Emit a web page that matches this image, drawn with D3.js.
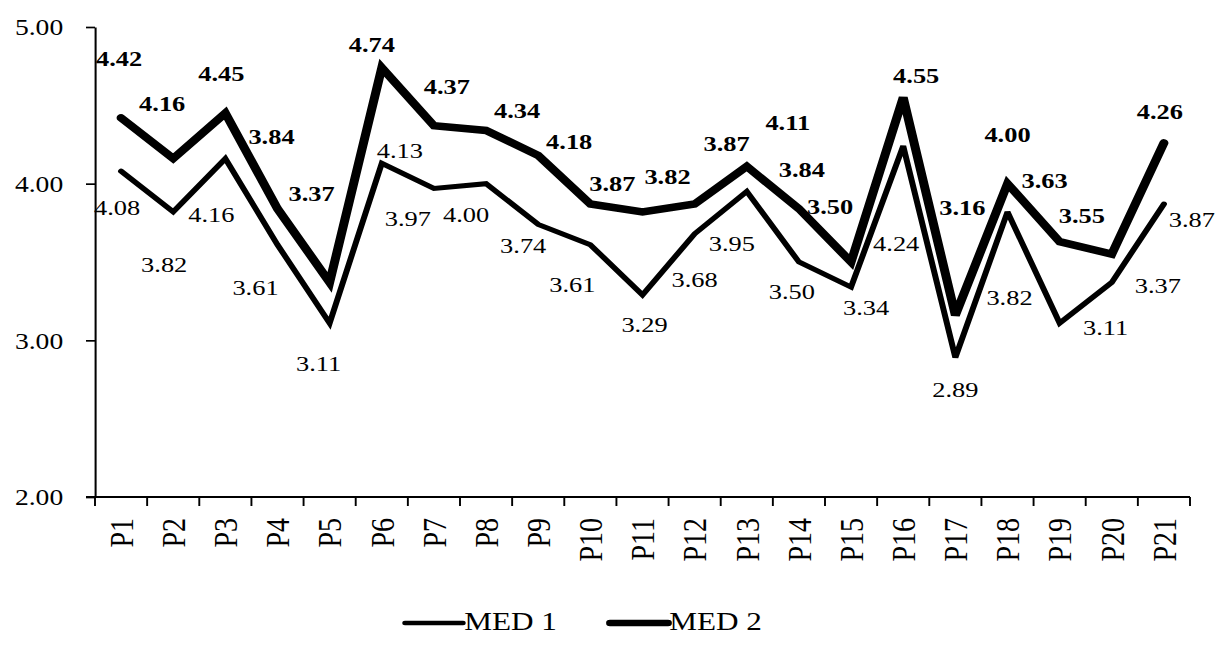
<!DOCTYPE html>
<html>
<head>
<meta charset="utf-8">
<script src="https://cdn.jsdelivr.net/npm/d3@7"></script>
<style>
  html, body { margin: 0; padding: 0; background: #fff; }
  svg { display: block; }
  text { font-family: "Liberation Serif", "Times New Roman", serif; fill: #000; }
</style>
</head>
<body>
<svg id="chart" width="1220" height="647"></svg>
<script>
// Categories and series
const categories = ["P1","P2","P3","P4","P5","P6","P7","P8","P9","P10","P11","P12","P13","P14","P15","P16","P17","P18","P19","P20","P21"];
const med1 = [4.08,3.82,4.16,3.61,3.11,4.13,3.97,4.00,3.74,3.61,3.29,3.68,3.95,3.50,3.34,4.24,2.89,3.82,3.11,3.37,3.87];
const med2 = [4.42,4.16,4.45,3.84,3.37,4.74,4.37,4.34,4.18,3.87,3.82,3.87,4.11,3.84,3.50,4.55,3.16,4.00,3.63,3.55,4.26];
const yTicks = [2, 3, 4, 5];
const seriesNames = ["MED 1", "MED 2"];

// Value label nudges (pixels) relative to each point
const med1LabelDx = [-4,-9,-14,-22,-11,18,-26,-20,-15,-18,2,0,-15,-7,15,-7,0,2,46,46,28];
const med1LabelDy = [36,53,56,43,40,-13,30,31,21,40,30,46,52,30,20,97,32,86,4,3,15];
const med2LabelDx = [-2,-11,-4,-6,-18,-10,13,31,31,22,25,32,41,3,-21,13,7,0,-15,-30,-4];
const med2LabelDy = [-59,-55,-40,-72,-89,-23,-39,-20,-14,-21,-35,-61,-44,-39,-55,-22,-108,-49,-61,-39,-31];

// The drawing is laid out in a horizontally widened frame
const SX = 1.2;
const plotLeft = 95 / SX, plotRight = 1190 / SX, plotTop = 27, plotBottom = 497;

const svg = d3.select("#chart");
svg.append("rect").attr("width", 1220).attr("height", 647).attr("fill", "#fff");
const g = svg.append("g").attr("transform", `scale(${SX},1)`);

const x = d3.scaleBand().domain(categories).range([plotLeft, plotRight]).padding(0);
const y = d3.scaleLinear().domain([2, 5]).range([plotBottom, plotTop]);
const cx = d => x(d) + x.bandwidth() / 2;
const fmt = d3.format(".2f");

// Y axis
const yAxis = g.append("g")
  .attr("transform", `translate(${plotLeft},0)`)
  .call(d3.axisLeft(y).tickValues(yTicks).tickFormat(fmt).tickSize(7.5).tickSizeOuter(0).tickPadding(19));
yAxis.select(".domain").attr("stroke", "#000").attr("stroke-width", 1.7);
yAxis.selectAll(".tick line").attr("stroke", "#000").attr("stroke-width", 1.7);
yAxis.selectAll(".tick text")
  .attr("font-size", 23).attr("font-family", "Liberation Serif").attr("dy", "0.34em");

// X axis
const xAxis = g.append("g")
  .attr("transform", `translate(0,${plotBottom})`)
  .call(d3.axisBottom(x).tickSize(0));
xAxis.select(".domain").remove();
xAxis.selectAll(".tick text")
  .attr("font-size", 28).attr("font-family", "Liberation Serif")
  .attr("x", 0).attr("y", 0).attr("dy", "0.35em")
  .attr("text-anchor", "end")
  .attr("transform", "translate(0,21) rotate(-90)");
xAxis.append("line")
  .attr("x1", plotLeft - 7.5).attr("x2", plotRight).attr("y1", 0).attr("y2", 0)
  .attr("stroke", "#000").attr("stroke-width", 1.8);
const bounds = categories.map(d => x(d)).concat([x.range()[1]]);
xAxis.selectAll("line.bound").data(bounds).join("line")
  .attr("class", "bound")
  .attr("x1", d => d).attr("x2", d => d).attr("y1", 0).attr("y2", 9)
  .attr("stroke", "#000").attr("stroke-width", 1.6);

// Lines
const line = d3.line().x((v, i) => cx(categories[i])).y(v => y(v));
const series = [
  { name: seriesNames[0], values: med1, width: 5, weight: "normal", dx: med1LabelDx, dy: med1LabelDy },
  { name: seriesNames[1], values: med2, width: 7.5, weight: "bold", dx: med2LabelDx, dy: med2LabelDy }
];

series.forEach(s => {
  g.append("path")
    .datum(s.values)
    .attr("d", line)
    .attr("fill", "none")
    .attr("stroke", "#000")
    .attr("stroke-width", s.width)
    .attr("stroke-linejoin", "miter")
    .attr("stroke-miterlimit", 3)
    .attr("stroke-linecap", "round");

  g.append("g").selectAll("text").data(s.values).join("text")
    .attr("x", (v, i) => cx(categories[i]) + s.dx[i] / SX)
    .attr("y", (v, i) => y(v) + s.dy[i])
    .attr("dy", "0.34em")
    .attr("text-anchor", "middle")
    .attr("font-size", 22)
    .attr("font-weight", s.weight)
    .text(v => fmt(v));
});

// Legend
const legend = g.append("g");
const legendItems = [
  { name: seriesNames[0], x0: 405 / SX, x1: 463 / SX, width: 4.5 },
  { name: seriesNames[1], x0: 610 / SX, x1: 668 / SX, width: 6.5 }
];
legendItems.forEach(it => {
  legend.append("line")
    .attr("x1", it.x0).attr("x2", it.x1).attr("y1", 623).attr("y2", 623)
    .attr("stroke", "#000").attr("stroke-width", it.width).attr("stroke-linecap", "round");
  legend.append("text")
    .attr("x", it.x1 + 1).attr("y", 630)
    .attr("font-size", 26)
    .text(it.name);
});
</script>
</body>
</html>
